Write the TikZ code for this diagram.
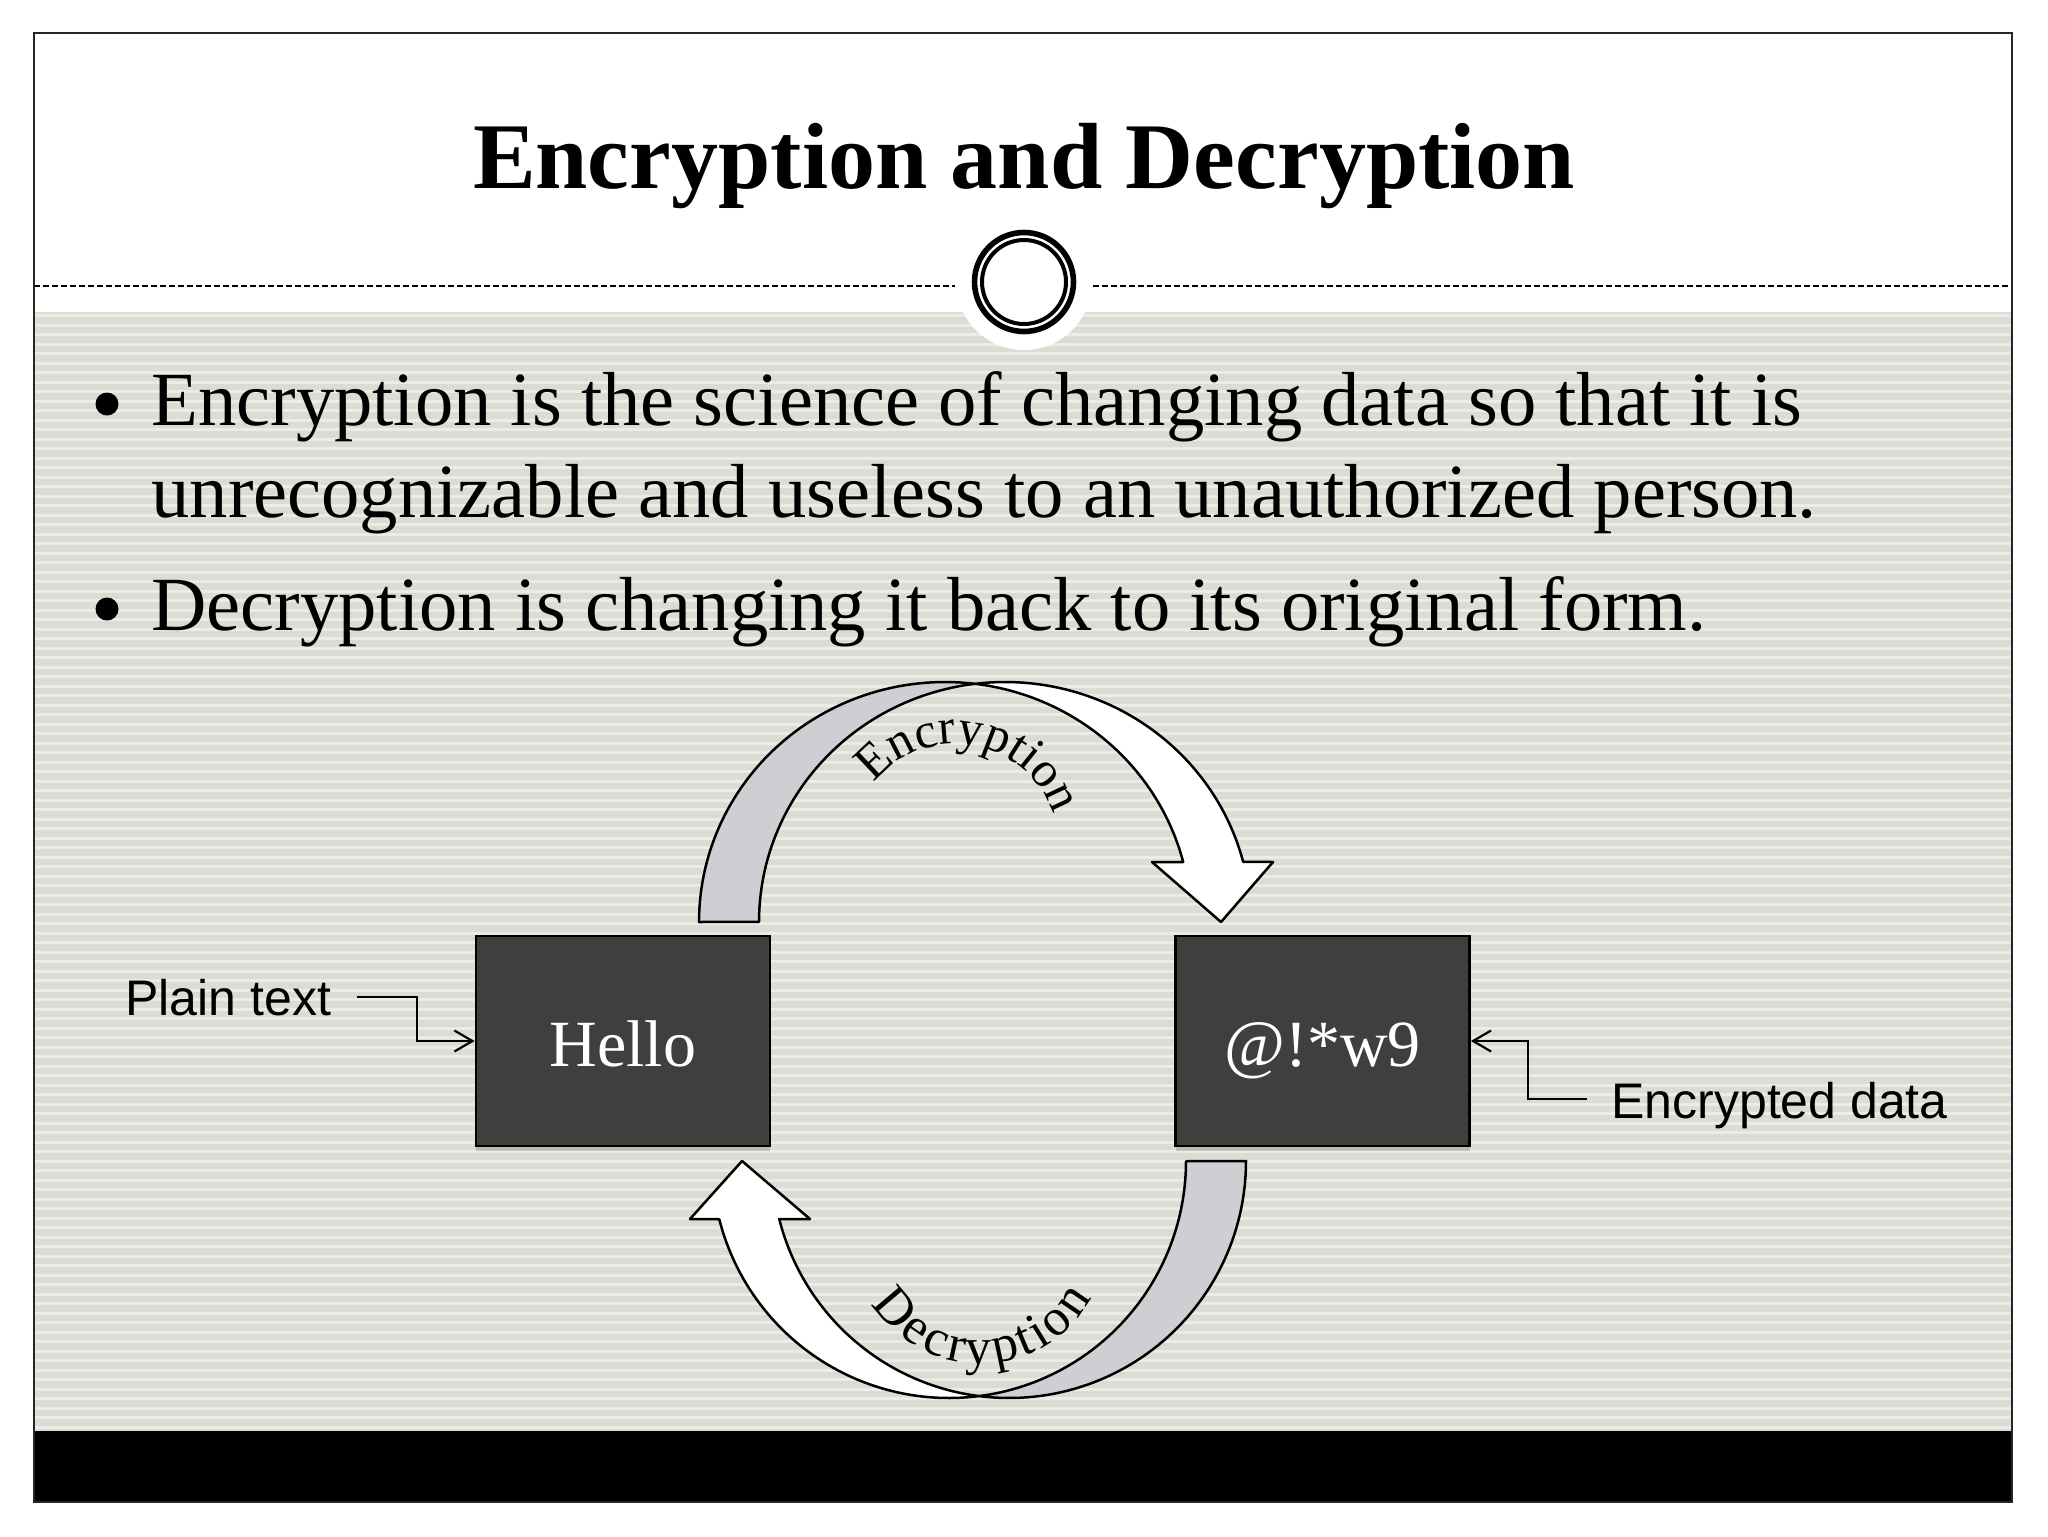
\documentclass[tikz,border=0pt]{standalone}
\usepackage{fontspec}
\setmainfont{Liberation Serif}
\newfontfamily\arialfont{Liberation Sans}
\usetikzlibrary{arrows.meta,decorations.text,shadows}
\definecolor{bgbase}{RGB}{220,220,212}
\definecolor{bgstripe}{RGB}{236,236,230}
\definecolor{boxfill}{RGB}{65,63,62}
\definecolor{backface}{RGB}{207,206,211}
\tikzset{
  cipherbox/.style={draw=black, line width=1.4pt, fill=boxfill, minimum width=147pt, minimum height=105pt, inner sep=0pt, text height=25pt, text depth=0pt, text=white, font=\fontsize{33}{33}\selectfont, drop shadow={shadow xshift=0pt, shadow yshift=-2.5pt, opacity=0.35}},
  callout/.style={font=\arialfont\fontsize{25}{25}\selectfont, inner sep=0pt, anchor=base west},
  pointer/.style={draw=black, line width=1.1pt, -{Straight Barb[length=9pt,width=10.5pt]}},
  bodytext/.style={font=\fontsize{38.3}{38.3}\selectfont, inner sep=0pt, anchor=base west},
  bandface/.style={draw=black, line width=1.25pt, line join=round},
}
\begin{document}
\begin{tikzpicture}[x=0.5pt,y=-0.5pt]
\useasboundingbox (0,0) rectangle (2048,1536);
\fill[white] (0,0) rectangle (2048,1536);
% striped background
\fill[bgbase] (34,312) rectangle (2012,1431);
\foreach \i in {0,...,117} \fill[bgstripe] (34,{314+\i*9.5}) rectangle (2012,{317+\i*9.5});
% footer bar
\fill[black] (34,1431) rectangle (2012,1502);
% header divider
\draw[black, line width=1pt, dash pattern=on 3pt off 1.5pt] (34,286) -- (955,286);
\draw[black, line width=1pt, dash pattern=on 3pt off 1.5pt] (1093,286) -- (2012,286);
\fill[white] (1024,282) circle[radius=68];
\draw[black, line width=2.8pt] (1024,282) circle[radius=49.5];
\draw[black, line width=2pt] (1024,282) circle[radius=42];
% frame
\draw[black!85, line width=1pt] (34,33) rectangle (2012,1502);
% title
\node[font=\bfseries\fontsize{47}{47}\selectfont, anchor=base, inner sep=0pt] (title) at (1024,188) {Encryption and Decryption};
% bullets
\fill (107,404) circle[radius=11.5];
\node[bodytext] (b1a) at (151,425) {Encryption is the science of changing data so that it is};
\node[bodytext] (b1b) at (151,517) {unrecognizable and useless to an unauthorized person.};
\fill (107,609) circle[radius=11.5];
\node[bodytext] (b2) at (151,630) {Decryption is changing it back to its original form.};
% encryption arrow
\filldraw[bandface, fill=backface]
  plot[domain=0:1, samples=60] ({945+246*cos(180+97*\x)},{922+240*sin(180+97*\x)})
  -- plot[domain=0:1, samples=60] ({1005+246*cos(263-83*\x)},{922+240*sin(263-83*\x)}) -- cycle;
\filldraw[bandface, fill=white]
  plot[domain=0:1, samples=60] ({1005+246*cos(263+82.52*\x)},{922+240*sin(263+82.52*\x)})
  -- (1273,862) -- (1221,922) -- (1152,862)
  -- plot[domain=0:1, samples=60] ({945+246*cos(345.52-68.52*\x)},{922+240*sin(345.52-68.52*\x)}) -- cycle;
% decryption arrow
\filldraw[bandface, fill=backface]
  plot[domain=0:1, samples=60] ({1009+237*cos(97.27*\x)},{1161+237*sin(97.27*\x)})
  -- plot[domain=0:1, samples=60] ({949+237*cos(82.73-82.73*\x)},{1161+237*sin(82.73-82.73*\x)}) -- cycle;
\filldraw[bandface, fill=white]
  plot[domain=0:1, samples=60] ({949+237*cos(82.73+83.1*\x)},{1161+237*sin(82.73+83.1*\x)})
  -- (690,1219) -- (742,1161) -- (810,1219)
  -- plot[domain=0:1, samples=60] ({1009+237*cos(165.83-68.56*\x)},{1161+237*sin(165.83-68.56*\x)}) -- cycle;
% arc labels
\path[decorate, decoration={text along path, text={|\fontsize{25}{25}\selectfont|Encryption}, text align=center}]
  plot[domain=0:1, samples=100] ({955+104*cos(200+160*\x)},{848+104*sin(200+160*\x)});
\path[decorate, decoration={text along path, text={|\fontsize{26}{26}\selectfont|Decryption}, text align={fit to path}}]
  plot[domain=0:1, samples=80] ({980+128*cos(148-119*\x)},{1236+128*sin(148-119*\x)});
% boxes
\node[cipherbox] (hello) at (623,1041) {Hello};
\node[cipherbox] (cipher) at (1322.5,1041) {@!*w9};
% callouts
\node[callout] (plain) at (125,1015) {Plain text};
\node[callout] (encdata) at (1611,1118) {Encrypted data};
\coordinate (pstart) at (357,997);
\coordinate (pbend) at (417,1041);
\draw[pointer] (pstart) -| (pbend) -- (hello.west);
\coordinate (estart) at (1587,1099);
\coordinate (ebend) at (1528,1041);
\draw[pointer] (estart) -| (ebend) -- (cipher.east);
\end{tikzpicture}
\end{document}
